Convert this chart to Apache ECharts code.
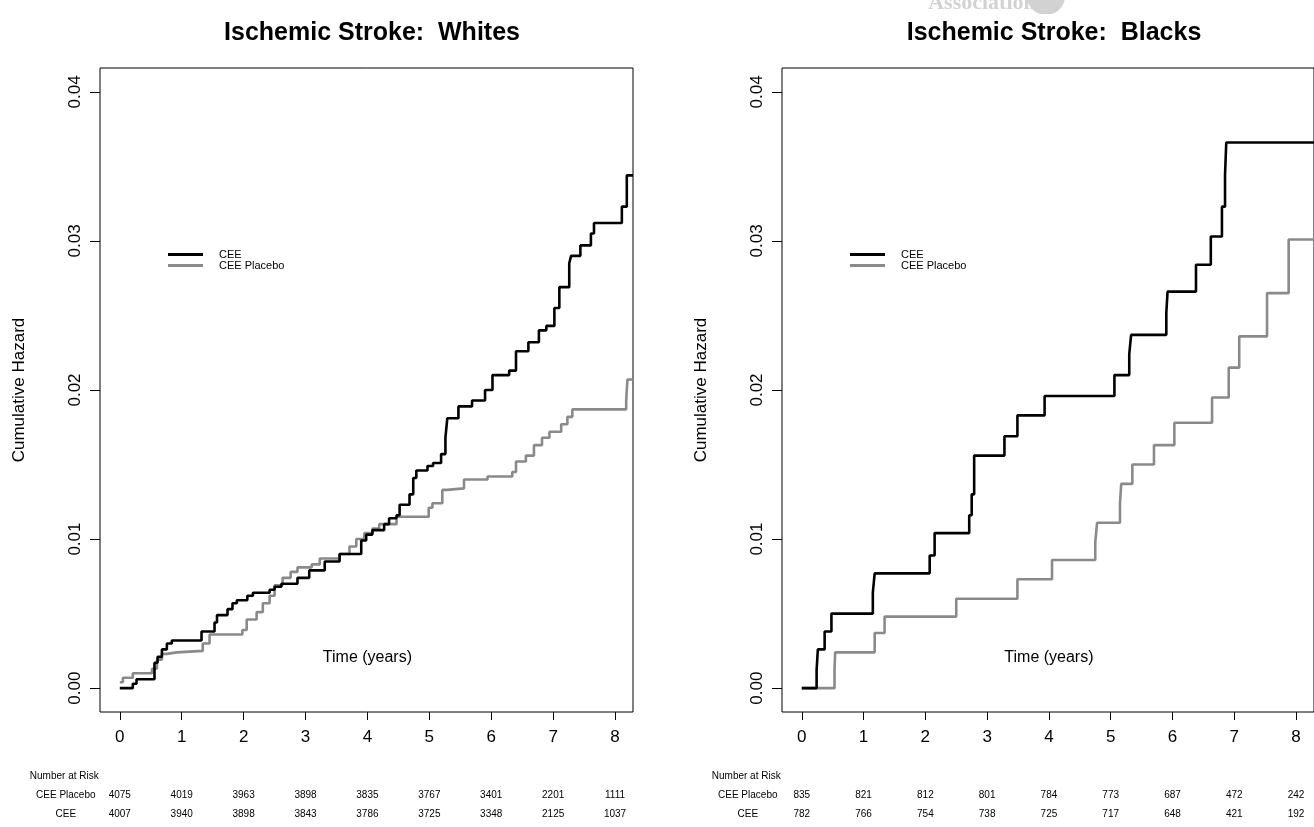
<!DOCTYPE html>
<html><head><meta charset="utf-8">
<script src="https://cdn.jsdelivr.net/npm/echarts@6/dist/echarts.min.js"></script>
<style>html,body{margin:0;padding:0;background:#fff}#c{width:1314px;height:827px}</style>
</head><body><div id="c"></div>
<script>
// ---- data ----
const years = [0, 1, 2, 3, 4, 5, 6, 7, 8];
const yTicks = [0, 0.01, 0.02, 0.03, 0.04];
const titles = ['Ischemic Stroke:  Whites', 'Ischemic Stroke:  Blacks'];
const seriesNames = ['CEE', 'CEE Placebo'];

const whitesCEE = [[0,0],[0.21,0.0003],[0.27,0.0006],[0.56,0.0017],[0.61,0.0021],[0.68,0.0026],[0.76,0.0030],[0.84,0.0032],
  [1.32,0.0038],[1.53,0.0044],[1.57,0.0049],[1.74,0.0053],[1.82,0.0057],[1.89,0.0059],[2.06,0.0062],[2.15,0.0064],
  [2.42,0.0066],[2.50,0.0068],[2.61,0.0070],[2.87,0.0074],[3.06,0.0079],[3.31,0.0085],[3.55,0.0090],[3.90,0.0099],
  [3.98,0.0103],[4.08,0.0106],[4.27,0.0110],[4.35,0.0114],[4.47,0.0116],[4.52,0.0123],[4.68,0.0130],[4.74,0.0141],
  [4.79,0.0146],[4.97,0.0149],[5.06,0.0151],[5.19,0.0157],[5.26,0.0168],[5.29,0.0181],[5.47,0.0189],[5.69,0.0193],
  [5.90,0.0200],[6.02,0.0210],[6.29,0.0213],[6.40,0.0226],[6.60,0.0232],[6.77,0.0240],[6.89,0.0243],[7.02,0.0255],
  [7.10,0.0269],[7.26,0.0285],[7.29,0.0290],[7.44,0.0297],[7.61,0.0305],[7.66,0.0312],[8.11,0.0323],[8.19,0.0344],[8.29,0.0344]];
const whitesPlacebo = [[0,0.0004],[0.05,0.0007],[0.21,0.0010],[0.52,0.0013],[0.60,0.0019],[0.68,0.0023],[0.76,0.0024],
  [0.92,0.0025],[1.34,0.0030],[1.45,0.0036],[1.98,0.0039],[2.05,0.0046],[2.21,0.0051],[2.31,0.0057],[2.42,0.0062],
  [2.50,0.0069],[2.63,0.0074],[2.76,0.0078],[2.87,0.0081],[3.10,0.0083],[3.23,0.0087],[3.55,0.0090],[3.71,0.0095],
  [3.82,0.0100],[3.95,0.0104],[4.08,0.0107],[4.19,0.0110],[4.47,0.0115],[4.99,0.0121],[5.05,0.0124],[5.21,0.0133],
  [5.29,0.0134],[5.56,0.0140],[5.94,0.0142],[6.34,0.0145],[6.40,0.0152],[6.56,0.0156],[6.69,0.0163],[6.82,0.0168],
  [6.94,0.0172],[7.13,0.0177],[7.23,0.0182],[7.31,0.0187],[8.18,0.0193],[8.20,0.0207],[8.29,0.0207]];
const blacksCEE = [[0,0],[0.24,0.0012],[0.26,0.0026],[0.37,0.0038],[0.48,0.0050],[1.15,0.0064],[1.18,0.0077],
  [2.07,0.0089],[2.15,0.0104],[2.71,0.0116],[2.75,0.0130],[2.79,0.0156],[3.28,0.0169],[3.49,0.0183],[3.93,0.0196],
  [5.06,0.0210],[5.30,0.0224],[5.33,0.0237],[5.90,0.0252],[5.92,0.0266],[6.38,0.0284],[6.62,0.0303],[6.80,0.0323],
  [6.85,0.0344],[6.87,0.0366],[8.29,0.0366]];
const blacksPlacebo = [[0,0],[0.53,0.0012],[0.54,0.0024],[1.18,0.0037],[1.34,0.0048],[2.50,0.0060],[3.49,0.0073],
  [4.05,0.0086],[4.75,0.0098],[4.78,0.0111],[5.15,0.0124],[5.17,0.0137],[5.35,0.0150],[5.70,0.0163],[6.03,0.0178],
  [6.64,0.0195],[6.91,0.0215],[7.08,0.0236],[7.53,0.0265],[7.88,0.0301],[8.29,0.0301]];

const riskWhitesPlacebo = [4075, 4019, 3963, 3898, 3835, 3767, 3401, 2201, 1111];
const riskWhitesCEE = [4007, 3940, 3898, 3843, 3786, 3725, 3348, 2125, 1037];
const riskBlacksPlacebo = [835, 821, 812, 801, 784, 773, 687, 472, 242];
const riskBlacksCEE = [782, 766, 754, 738, 725, 717, 648, 421, 192];

// ---- chart ----
const FONT = '"Liberation Sans", Arial, Helvetica, sans-serif';
const BLACK = '#000000', GREY = '#8a8a8a';
const chart = echarts.init(document.getElementById('c'), null, {renderer: 'canvas'});

const grids = [
  {left: 100, top: 68, width: 533, height: 644},
  {left: 782, top: 68, width: 533, height: 644}
].map(g => Object.assign(g, {show: true, borderColor: '#000', borderWidth: 1, backgroundColor: 'transparent'}));

function xAx(i) {
  return {
    type: 'value', gridIndex: i, min: -0.32, max: 8.29, position: 'bottom',
    axisLine: {show: false, onZero: false}, splitLine: {show: false},
    axisTick: {show: true, customValues: years, length: 8, lineStyle: {color: '#000', width: 1}},
    axisLabel: {customValues: years, fontSize: 17, color: '#000', margin: 17, fontFamily: FONT}
  };
}
function yAx(i) {
  return {
    type: 'value', gridIndex: i, min: -0.0016, max: 0.0416, position: 'left',
    name: 'Cumulative Hazard', nameLocation: 'middle', nameGap: 72, nameRotate: 90,
    nameTextStyle: {fontSize: 17, color: '#000', fontFamily: FONT},
    axisLine: {show: false, onZero: false}, splitLine: {show: false},
    axisTick: {show: true, customValues: yTicks, length: 10, lineStyle: {color: '#000', width: 1}},
    axisLabel: {customValues: yTicks, rotate: 90, fontSize: 17, color: '#000', margin: 16, fontFamily: FONT,
      formatter: v => v.toFixed(2)}
  };
}
function line(name, data, i, color) {
  return {
    type: 'line', name, data, xAxisIndex: i, yAxisIndex: i, step: 'end', showSymbol: false, symbol: 'none',
    lineStyle: {color, width: 2.6}, itemStyle: {color}, silent: true, animation: false
  };
}
function legend(i, left) {
  return {
    show: true, orient: 'vertical', left, top: 249, data: seriesNames, icon: 'rect',
    itemWidth: 35, itemHeight: 3, itemGap: 0, selectedMode: false, padding: 0,
    textStyle: {fontSize: 11, lineHeight: 10, color: '#000', fontFamily: FONT, padding: [0, 0, 0, 11]}
  };
}

chart.setOption({
  animation: false,
  backgroundColor: '#fff',
  title: [
    {text: titles[0], left: 367, top: 16, textAlign: 'center',
      textStyle: {fontSize: 25, fontWeight: 'bold', color: '#000', fontFamily: FONT}},
    {text: titles[1], left: 1049, top: 16, textAlign: 'center',
      textStyle: {fontSize: 25, fontWeight: 'bold', color: '#000', fontFamily: FONT}}
  ],
  grid: grids,
  xAxis: [xAx(0), xAx(1)],
  yAxis: [yAx(0), yAx(1)],
  legend: [legend(0, 168), legend(1, 850)],
  series: [
    line(seriesNames[1], whitesPlacebo, 0, GREY),
    line(seriesNames[0], whitesCEE, 0, BLACK),
    line(seriesNames[1], blacksPlacebo, 1, GREY),
    line(seriesNames[0], blacksCEE, 1, BLACK)
  ]
});

// ---- annotations: Time label, number-at-risk table, watermark ----
const g = [];
const risk = [[riskWhitesPlacebo, riskWhitesCEE], [riskBlacksPlacebo, riskBlacksCEE]];
const rowY = [776, 795, 814];
const tableFont = '"Liberation Sans Narrow", "Liberation Sans", Arial, sans-serif';
[0, 1].forEach(i => {
  const cx = chart.convertToPixel({xAxisIndex: i}, 4);
  g.push({type: 'text', x: cx, y: 658, style: {text: 'Time (years)', fontSize: 16, fontFamily: FONT, fill: '#000',
    align: 'center', verticalAlign: 'middle'}});
  const x0 = chart.convertToPixel({xAxisIndex: i}, 0);
  g.push({type: 'text', x: x0 - 90, y: rowY[0], style: {text: 'Number at Risk', fontSize: 10, fontFamily: tableFont,
    fill: '#000', align: 'left', verticalAlign: 'middle'}});
  g.push({type: 'text', x: x0 - 54, y: rowY[1], style: {text: 'CEE Placebo', fontSize: 10, fontFamily: tableFont,
    fill: '#000', align: 'center', verticalAlign: 'middle'}});
  g.push({type: 'text', x: x0 - 54, y: rowY[2], style: {text: 'CEE', fontSize: 10, fontFamily: tableFont,
    fill: '#000', align: 'center', verticalAlign: 'middle'}});
  years.forEach((yr, k) => {
    const px = chart.convertToPixel({xAxisIndex: i}, yr);
    g.push({type: 'text', x: px, y: rowY[1], style: {text: String(risk[i][0][k]), fontSize: 10, fontFamily: tableFont,
      fill: '#000', align: 'center', verticalAlign: 'middle'}});
    g.push({type: 'text', x: px, y: rowY[2], style: {text: String(risk[i][1][k]), fontSize: 10, fontFamily: tableFont,
      fill: '#000', align: 'center', verticalAlign: 'middle'}});
  });
});
// faint watermark fragment at the top
g.push({type: 'text', x: 982, y: 14, style: {text: 'Association', fontSize: 22, fontWeight: 'bold',
  fontFamily: '"Liberation Serif", serif', fill: '#d2d2d2', align: 'center', verticalAlign: 'bottom'}, z: -1});
g.push({type: 'circle', shape: {cx: 1046, cy: -4, r: 19}, style: {fill: '#d2d2d2'}, z: -1});
g.push({type: 'rect', shape: {x: 900, y: 14, width: 200, height: 20}, style: {fill: '#fff'}, z: -1});
chart.setOption({graphic: g});
</script>
</body></html>
